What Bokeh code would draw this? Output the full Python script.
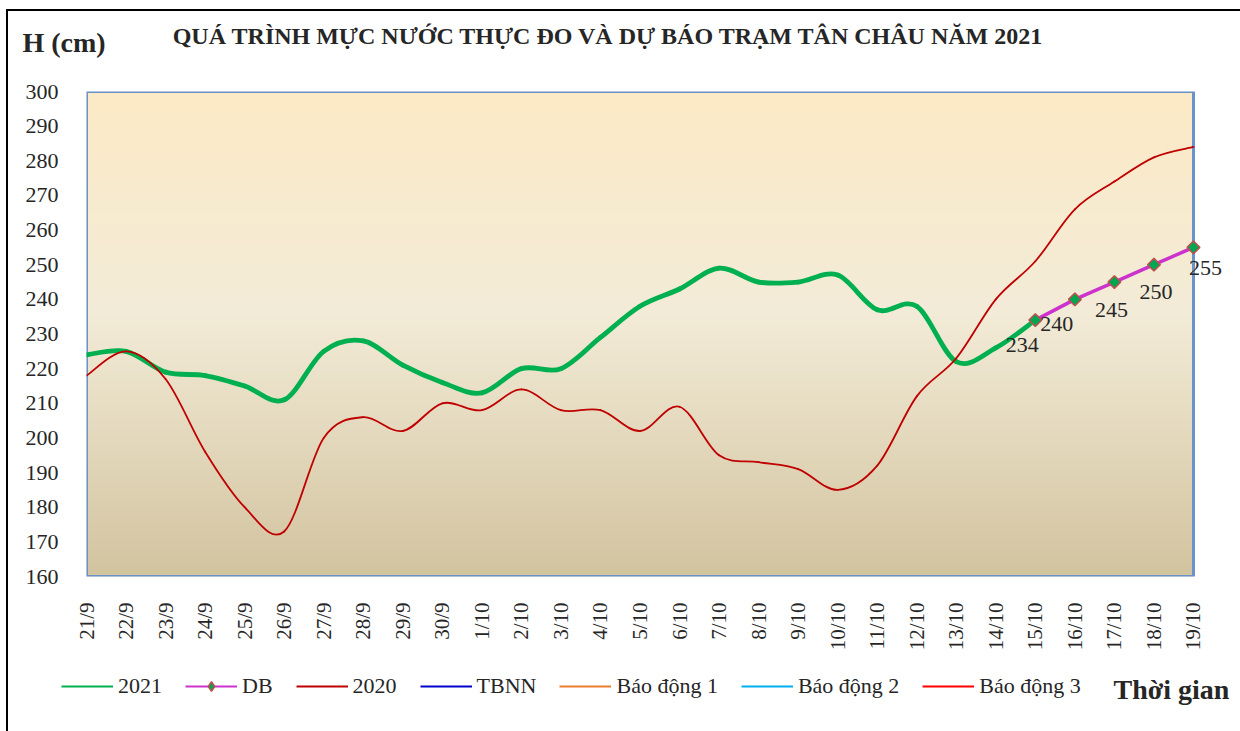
import numpy as np
from bokeh.plotting import figure
from bokeh.layouts import column
from bokeh.models import (Range1d, FixedTicker, Legend, LegendItem, Label, Plot,
                          LabelSet, ColumnDataSource)
from bokeh.embed import file_html
from bokeh.resources import INLINE

# ---------------- data ----------------
dates = ["21/9", "22/9", "23/9", "24/9", "25/9", "26/9", "27/9", "28/9", "29/9", "30/9",
         "1/10", "2/10", "3/10", "4/10", "5/10", "6/10", "7/10", "8/10", "9/10", "10/10",
         "11/10", "12/10", "13/10", "14/10", "15/10", "16/10", "17/10", "18/10", "19/10"]
h2021 = [224, 225, 219, 218, 215, 211, 225, 228, 221, 216, 213, 220, 220, 229, 238,
         243, 249, 245, 245, 247, 237, 238, 222, 226, 234]
h2020 = [218, 225, 217, 196, 180, 173, 200, 206, 202, 210, 208, 214, 208, 208, 202,
         209, 195, 193, 191, 185, 192, 212, 223, 240, 251, 266, 274, 281, 284]
db_dates = ["15/10", "16/10", "17/10", "18/10", "19/10"]
db = [234, 240, 245, 250, 255]
y_ticks = list(range(160, 301, 10))

title_text = "QUÁ TRÌNH MỰC NƯỚC THỰC ĐO VÀ DỰ BÁO TRẠM TÂN CHÂU NĂM 2021"
y_title = "H (cm)"
x_title = "Thời gian"
legend_names = ["2021", "DB", "2020", "TBNN", "Báo động 1", "Báo động 2", "Báo động 3"]

# ---------------- helpers ----------------
FONT = "Liberation Serif"
TXT = "#262626"
W = 1232
HAS_FRAME_ALIGN = "frame_align" in Plot.properties()


def smooth_segments(xs, ys):
    xs = np.asarray(xs, float)
    ys = np.asarray(ys, float)
    n = len(xs)
    px = np.concatenate([[xs[0]], xs, [xs[-1]]])
    py = np.concatenate([[ys[0]], ys, [ys[-1]]])
    p0x, p1x, p2x, p3x = px[0:n - 1], px[1:n], px[2:n + 1], px[3:n + 2]
    p0y, p1y, p2y, p3y = py[0:n - 1], py[1:n], py[2:n + 1], py[3:n + 2]
    return dict(x0=p1x, y0=p1y, x1=p2x, y1=p2y,
                cx0=p1x + (p2x - p0x) / 6.0, cy0=p1y + (p2y - p0y) / 6.0,
                cx1=p2x - (p3x - p1x) / 6.0, cy1=p2y - (p3y - p1y) / 6.0)


def no_align(f):
    if HAS_FRAME_ALIGN:
        f.frame_align = False
    return f


def blank(height):
    f = figure(width=W, height=height, output_backend="svg", toolbar_location=None,
               x_range=Range1d(0, W), y_range=Range1d(0, height), title=None,
               x_axis_type=None, y_axis_type=None, min_border=0,
               border_fill_color="white", background_fill_color="white")
    f.grid.visible = False
    f.outline_line_color = None
    return no_align(f)


xi = list(range(len(dates)))
x2021 = xi[:len(h2021)]
xdb = [dates.index(d) for d in db_dates]
xlast = len(dates) - 1

# ---------------- header (page y 11..77) ----------------
head = blank(66)
head.add_layout(Label(x=14, y=35, text=y_title, text_align="left",
                      text_baseline="alphabetic", text_font=FONT, text_font_size="28px",
                      text_font_style="bold", text_color=TXT))
head.add_layout(Label(x=600, y=42, text=title_text, text_align="center",
                      text_baseline="alphabetic", text_font=FONT, text_font_size="24px",
                      text_font_style="bold", text_color=TXT))

# ---------------- main chart (page y 77..653) ----------------
p = figure(width=W, height=576, output_backend="svg", toolbar_location=None,
           x_range=Range1d(0, xlast + 0.81), y_range=Range1d(160, 300), title=None,
           min_border_left=78, min_border_top=14, min_border_right=15,
           min_border_bottom=75, background_fill_color="white",
           border_fill_color="white")
no_align(p)
p.grid.visible = False
p.outline_line_color = None

stops_t = [0.0, 0.45, 1.0]
stops_c = [(0xFD, 0xEA, 0xC6), (0xF3, 0xEC, 0xD8), (0xD3, 0xC4, 0xA0)]
N = 280
tt = np.linspace(1.0, 0.0, N)  # row 0 is bottom
img = np.zeros((N, 2), dtype=np.uint32)
view = img.view(dtype=np.uint8).reshape((N, 2, 4))
for ch in range(3):
    col = np.interp(tt, stops_t, [c[ch] for c in stops_c])
    view[:, :, ch] = col.astype(np.uint8)[:, None]
view[:, :, 3] = 255
p.image_rgba(image=[img], x=0, y=160, dw=xlast, dh=140)
p.quad(left=0, right=xlast, bottom=160, top=300, fill_color=None,
       line_color="#6A93CC", line_width=3)

src21 = ColumnDataSource(smooth_segments(x2021, h2021))
p.bezier(x0="x0", y0="y0", x1="x1", y1="y1", cx0="cx0", cy0="cy0", cx1="cx1", cy1="cy1",
         source=src21, line_color="#00B050", line_width=4.8, line_cap="round")

p.line(xdb, db, line_color="#CC33CC", line_width=3.5)
p.scatter(xdb, db, marker="square", angle=np.pi / 4, size=9,
          fill_color="#00A651", line_color="#C0504D", line_width=1.5)

src20 = ColumnDataSource(smooth_segments(xi, h2020))
p.bezier(x0="x0", y0="y0", x1="x1", y1="y1", cx0="cx0", cy0="cy0", cx1="cx1", cy1="cy1",
         source=src20, line_color="#C00000", line_width=1.8, line_cap="round")

lab_x = [x2021[-1]] + xdb[1:]
lab_y = [h2021[-1]] + db[1:]
lab_t = [str(v) for v in lab_y]
lab_dx = [-13, -18, -3, 2, 12]
lab_dy = [-25, -25, -28, -27, -21]
lsrc = ColumnDataSource(dict(x=lab_x, y=lab_y, t=lab_t, dx=lab_dx, dy=lab_dy))
p.add_layout(LabelSet(x="x", y="y", text="t", source=lsrc, x_offset="dx", y_offset="dy",
                      text_align="center", text_baseline="middle",
                      text_font=FONT, text_font_size="22px", text_color=TXT))

p.yaxis.ticker = FixedTicker(ticks=y_ticks)
p.xaxis.ticker = FixedTicker(ticks=xi)
p.xaxis.major_label_overrides = {i: d for i, d in enumerate(dates)}
p.xaxis.major_label_orientation = np.pi / 2
for ax in (p.xaxis, p.yaxis):
    ax.axis_line_color = None
    ax.major_tick_line_color = None
    ax.minor_tick_line_color = None
    ax.major_label_text_font = FONT
    ax.major_label_text_color = TXT
p.yaxis.major_label_text_font_size = "22px"
p.xaxis.major_label_text_font_size = "21px"
p.yaxis.major_label_standoff = 22
p.xaxis.major_label_standoff = 20

# ---------------- footer: legend + x title (page y 653..731) ----------------
foot = blank(78)
leg_colors = ["#00B050", None, "#C00000", "#0000CC", "#ED7D31", "#00B0F0", "#FF0000"]
off_x, off_y = [-60, -50], [-60, -60]   # legend proxies, outside the view
items = []
for name, c in zip(legend_names, leg_colors):
    if c is None:
        rl = foot.line(off_x, off_y, line_color="#CC33CC", line_width=2)
        rm = foot.scatter(off_x[:1], off_y[:1], marker="diamond", size=15,
                          fill_color="#00A651", line_color="#C0504D", line_width=1.5)
        items.append(LegendItem(label=name, renderers=[rl, rm]))
    else:
        rl = foot.line(off_x, off_y, line_color=c, line_width=2)
        items.append(LegendItem(label=name, renderers=[rl]))
legend = Legend(items=items, orientation="horizontal", location=(53, 32),
                glyph_width=52, glyph_height=24, label_height=24, label_standoff=5,
                spacing=23, padding=0, margin=0, border_line_alpha=0,
                background_fill_alpha=0, label_text_font=FONT,
                label_text_font_size="22px", label_text_color=TXT)
foot.add_layout(legend)
foot.add_layout(Label(x=1105, y=42, text=x_title, text_align="left",
                      text_baseline="alphabetic", text_font=FONT, text_font_size="28px",
                      text_font_style="bold", text_color=TXT))

layout = column(head, p, foot, spacing=0)
layout.styles = {"margin-left": "6px", "margin-top": "9px",
                 "border-left": "2px solid #000", "border-top": "2px solid #000"}

open("out.html", "w").write(file_html(layout, INLINE))
